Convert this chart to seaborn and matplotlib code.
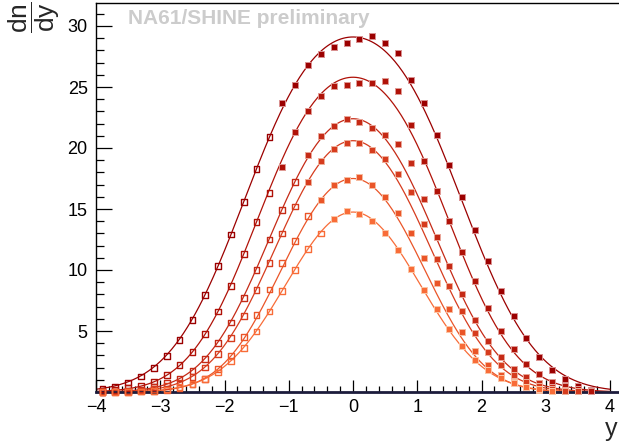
import numpy as np
import matplotlib
matplotlib.use("Agg")
import matplotlib.pyplot as plt
import seaborn as sns

# rapidity bin centres
y_bins = [-3.9, -3.7, -3.5, -3.3, -3.1, -2.9, -2.7, -2.5, -2.3, -2.1,
          -1.9, -1.7, -1.5, -1.3, -1.1, -0.9, -0.7, -0.5, -0.3, -0.1,
          0.1, 0.3, 0.5, 0.7, 0.9, 1.1, 1.3, 1.5, 1.7, 1.9,
          2.1, 2.3, 2.5, 2.7, 2.9, 3.1, 3.3, 3.5, 3.7, 3.9]

nan = np.nan
dndy_1 = [0.27, 0.44, 0.77, 1.26, 1.97, 2.95, 4.26, 5.9, 7.95, 10.3,
          12.9, 15.6, 18.3, 20.9, 23.7, 25.2, 26.8, 27.7, 28.3, 28.6,
          28.9, 29.2, 28.6, 27.8, 25.6, 23.7, 21.1, 18.6, 16.0, 13.3,
          10.7, 8.25, 6.25, 4.4, 2.9, 1.8, 1.07, 0.5, 0.16, nan]
dndy_2 = [0.07, 0.14, 0.3, 0.52, 0.87, 1.39, 2.2, 3.3, 4.75, 6.6,
          8.7, 11.3, 13.95, 16.3, 18.45, 21.3, 23.05, 24.3, 25.05, 25.2,
          25.3, 25.35, 25.5, 24.65, 21.85, 18.9, 16.5, 14.05, 11.5, 9.1,
          6.9, 5.0, 3.5, 2.3, 1.45, 0.85, 0.5, 0.25, 0.12, nan]
dndy_3 = [0.02, 0.05, 0.1, 0.2, 0.4, 0.71, 1.1, 1.75, 2.7, 4.0,
          5.7, 7.7, 10.0, 12.5, 14.9, 17.2, 19.4, 20.95, 21.8, 22.35,
          22.1, 21.65, 21.05, 20.3, 18.75, 15.8, 12.7, 10.3, 8.0, 5.9,
          4.2, 2.9, 1.9, 1.2, 0.7, 0.4, 0.2, 0.1, nan, nan]
dndy_4 = [0.01, 0.03, 0.06, 0.12, 0.23, 0.5, 0.78, 1.25, 2.0, 3.1,
          4.45, 6.25, 8.35, 10.6, 13.0, 15.2, 17.2, 18.9, 19.9, 20.4,
          20.4, 19.8, 19.1, 17.9, 16.4, 13.8, 10.9, 8.7, 6.6, 4.8,
          3.3, 2.2, 1.4, 0.85, 0.48, 0.25, 0.12, 0.06, nan, nan]
dndy_5 = [0.0, 0.01, 0.02, 0.04, 0.09, 0.18, 0.35, 0.62, 1.07, 1.9,
          3.0, 4.5, 6.3, 8.4, 10.6, 12.4, 14.4, 15.7, 17.0, 17.4,
          17.6, 17.0, 16.0, 14.65, 13.05, 11.0, 8.9, 6.8, 4.9, 3.4,
          2.2, 1.4, 0.8, 0.42, 0.2, 0.1, nan, nan, nan, nan]
dndy_6 = [0.0, 0.0, 0.01, 0.05, 0.11, 0.21, 0.39, 0.66, 1.09, 1.6,
          2.5, 3.6, 4.95, 6.6, 8.3, 10.0, 11.7, 13.0, 14.15, 14.85,
          14.6, 14.05, 13.05, 11.65, 10.05, 8.4, 6.8, 5.2, 3.8, 2.65,
          1.8, 1.15, 0.7, 0.4, 0.22, 0.11, nan, nan, nan, nan]

# first measured bin (points below it are reflected -> open markers)
first_measured = [-1.1, -1.1, -0.7, -0.7, -0.5, -0.3]

# fit: double gaussian, peak height / shift y0 / sigma
fit_peak = [29.1, 25.8, 22.4, 20.6, 17.5, 14.75]
fit_y0 = [0.85, 0.75, 0.65, 0.60, 0.55, 0.45]
fit_sigma = [1.05, 0.95, 0.90, 0.88, 0.82, 0.90]

colors = ["#9b0000", "#b01208", "#c52a16", "#d63c1e", "#ea5528", "#f86c38"]
halo = ["#d99090", "#e09a94", "#eaa598", "#efaf9a", "#f7bb9f", "#fcc6a6"]

series = [dndy_1, dndy_2, dndy_3, dndy_4, dndy_5, dndy_6]

sns.set_theme(style="white")
plt.rcParams["font.family"] = ["Liberation Sans", "DejaVu Sans"]
plt.rcParams["mathtext.fontset"] = "custom"
plt.rcParams["mathtext.rm"] = "Liberation Sans"

fig = plt.figure(figsize=(6.19, 4.43), dpi=100)
ax = fig.add_axes([96 / 619, 1 - 392 / 443, 1 - 96 / 619, 389 / 443])

yy = np.linspace(-4, 4, 400)
xb = np.array(y_bins)
for i, vals in enumerate(series):
    v = np.array(vals)
    def dg(t):
        s2 = 2 * fit_sigma[i] ** 2
        return np.exp(-(t - fit_y0[i]) ** 2 / s2) + np.exp(-(t + fit_y0[i]) ** 2 / s2)
    curve = fit_peak[i] * dg(yy) / dg(0.0)
    sns.lineplot(x=yy, y=curve, color=colors[i], lw=0.9, ax=ax)

    ok = ~np.isnan(v)
    refl = ok & (xb < first_measured[i] - 0.01)
    meas = ok & (xb >= first_measured[i] - 0.01)
    sns.scatterplot(x=xb[refl], y=v[refl], marker="s", s=17, color="white",
                    edgecolor=colors[i], linewidth=1.0, ax=ax, zorder=3, clip_on=False)
    ax.collections[-1].set_facecolor("none")
    sns.scatterplot(x=xb[meas], y=v[meas], marker="s", s=20, color=colors[i],
                    edgecolor=halo[i], linewidth=0.7, ax=ax, zorder=4, clip_on=False)

ax.set_xlim(-4, 4 + 9 / 64.25)
ax.set_ylim(0, 389 / 12.2)
ax.set_xticks([-4, -3, -2, -1, 0, 1, 2, 3, 4])
ax.set_xticks(np.round(np.arange(-4, 4.1, 0.2), 1), minor=True)
ax.set_yticks([5, 10, 15, 20, 25, 30])
ax.set_yticks(range(0, 32), minor=True)
ax.set_xticklabels(["\u22124", "\u22123", "\u22122", "\u22121", "0", "1", "2", "3", "4"])
ax.tick_params(axis="both", which="both", direction="in", labelsize=13,
               colors="black", bottom=True, left=True, top=False, right=False)
ax.tick_params(axis="y", which="major", length=11.5, width=0.9, pad=6)
ax.tick_params(axis="y", which="minor", length=5.8, width=0.9)
ax.tick_params(axis="x", which="major", length=8.6, width=0.9, pad=5)
ax.tick_params(axis="x", which="minor", length=4.3, width=0.9)

for side in ["left", "top"]:
    ax.spines[side].set_color("black")
    ax.spines[side].set_linewidth(1.0)
ax.spines["right"].set_visible(False)
ax.spines["bottom"].set_color("#1c1c3c")
ax.spines["bottom"].set_linewidth(2.0)

ax.set_xlabel("")
ax.set_ylabel("")
fig.text(34 / 619, 1 - 17 / 443, r"$\dfrac{\mathrm{dn}}{\mathrm{dy}}$", rotation=90,
         ha="center", va="center", fontsize=19)
fig.text(611 / 619, 1 - 429 / 443, "y", ha="center", va="center", fontsize=18)
ax.text(128 / 619, 1 - 18 / 443, "NA61/SHINE preliminary", transform=fig.transFigure,
        color="#cccccc", fontsize=15, fontweight="bold", ha="left", va="center")

fig.savefig("out.png", dpi=100)
